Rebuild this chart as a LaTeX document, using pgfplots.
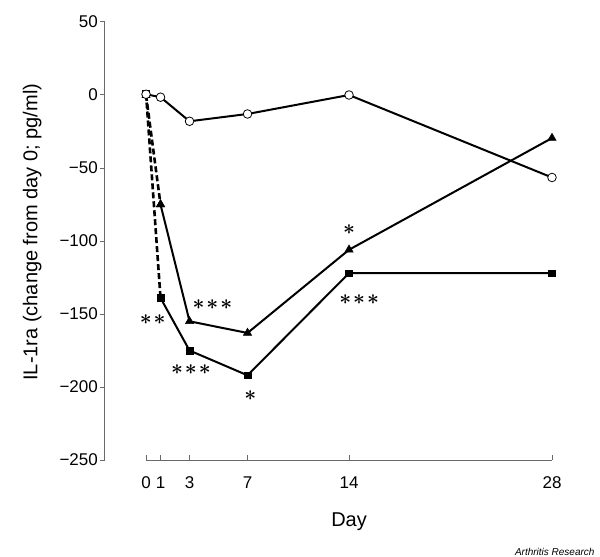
\documentclass[border=0pt]{standalone}
\usepackage{pgfplots}
\pgfplotsset{compat=1.18}
\usepackage{fontspec}
\setmainfont{Liberation Sans}
\definecolor{axgray}{RGB}{105,105,105}
\tikzset{sig/.style={font=\fontsize{21}{21}\selectfont\boldmath}}
\begin{document}
\begin{tikzpicture}
\useasboundingbox (-105pt,-97pt) rectangle (495pt,460pt);
\begin{axis}[
  scale only axis, width=447pt, height=438pt,
  xmin=-2.83, xmax=28, ymin=-250, ymax=50,
  axis x line*=bottom, axis y line*=left,
  x axis line style={draw=none},
  y axis line style={draw=axgray, line width=1pt},
  xtick={0,1,3,7,14,28},
  xticklabels={0,1,3,7,14,28},
  ytick={-250,-200,-150,-100,-50,0,50},
  yticklabels={−250,−200,−150,−100,−50,0,50},
  xtick align=inside, ytick align=outside,
  major tick length=5pt,
  tick style={draw=axgray, line width=1pt},
  tick label style={font=\fontsize{17}{17}\selectfont, text=black},
  x tick label style={yshift=-13pt},
  y tick label style={inner sep=2pt},
  xlabel={Day}, ylabel={IL-1ra (change from day 0; pg/ml)},
  label style={font=\fontsize{20}{20}\selectfont},
  xlabel style={at={(axis description cs:0.546,-0.1416)}, anchor=center},
  ylabel style={at={(axis description cs:-0.163,0.52)}, anchor=center},
  clip=false,
]
\addplot[black, line width=2.6pt, dash pattern=on 6pt off 3pt, mark=square*, mark size=3.3pt, mark options={solid, line width=0.5pt}] coordinates {(0,1) (1,-139)};
\addplot[black, line width=2pt, mark=square*, mark size=3.3pt, mark options={solid, line width=0.5pt}] coordinates {(1,-139) (3,-175) (7,-192) (14,-122) (28,-122)};
\addplot[black, line width=2.6pt, dash pattern=on 6pt off 3pt, mark=triangle*, mark size=4.8pt, mark options={solid, line width=0.5pt}] coordinates {(0,0) (1,-75)};
\addplot[black, line width=2pt, mark=triangle*, mark size=4.8pt, mark options={solid, line width=0.5pt}] coordinates {(1,-75) (3,-155) (7,-163) (14,-106) (28,-29.5)};
\addplot[black, line width=2pt, mark=*, mark size=4.3pt, mark options={solid, fill=white, line width=0.8pt}] coordinates {(0,0.5) (1,-1.5) (3,-18) (7,-13) (14,0) (28,-56.5)};
\draw[axgray, line width=1pt] (axis cs:0,-250.5) -- (axis cs:28,-250.5);
\node[sig] at (axis cs:0.46,-153.6) {${\ast}\mkern1.5mu{\ast}$};
\node[sig] at (axis cs:4.58,-143.8) {${\ast}\mkern1.5mu{\ast}\mkern1.5mu{\ast}$};
\node[sig] at (axis cs:3.1,-187.9) {${\ast}\mkern1.5mu{\ast}\mkern1.5mu{\ast}$};
\node[sig] at (axis cs:7.2,-206) {${\ast}$};
\node[sig] at (axis cs:14.7,-140) {${\ast}\mkern1.5mu{\ast}\mkern1.5mu{\ast}$};
\node[sig] at (axis cs:14,-92) {${\ast}$};
\node[anchor=east, font=\itshape\fontsize{10}{10}\selectfont] at (axis description cs:1.103,-0.21) {Arthritis Research};
\end{axis}
\end{tikzpicture}
\end{document}
